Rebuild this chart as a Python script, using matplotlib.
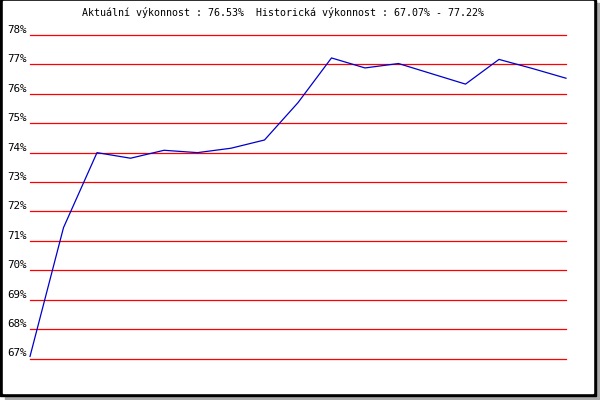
import matplotlib
matplotlib.use("Agg")
import matplotlib.pyplot as plt
import matplotlib.patches as patches

# performance readings (percent), one per sample
values = [67.07, 71.45, 74.0, 73.81, 74.08, 74.0, 74.15, 74.43, 75.7,
          77.22, 76.88, 77.03, 76.68, 76.33, 77.17, 76.86, 76.53]
ticks = list(range(67, 79))
tick_labels = [f"{t}%" for t in ticks]
title = "Aktuální výkonnost : 76.53%  Historická výkonnost : 67.07% - 77.22%"

W, H = 600, 400
fig = plt.figure(figsize=(6, 4), dpi=100, facecolor="white")

# frame with grey drop shadow
fig.patches.append(patches.Rectangle((5 / W, 0), 595 / W, 397 / H,
                                     transform=fig.transFigure, color="#aaaaaa", zorder=0))
fig.patches.append(patches.Rectangle((0, 4 / H), 596 / W, 396 / H,
                                     transform=fig.transFigure, color="black", zorder=0))
fig.patches.append(patches.Rectangle((3 / W, 7 / H), 590 / W, 392 / H,
                                     transform=fig.transFigure, color="white", zorder=0))

ax = fig.add_axes([30 / W, 1 - 358.5 / H, 536 / W, 323.5 / H])
ax.set_zorder(1)
ax.patch.set_visible(False)

for t in ticks:
    ax.axhline(t, color="#ff0000", lw=0.9, zorder=1, clip_on=False)

ax.plot(range(len(values)), values, color="#0000cc", lw=0.9, zorder=2, clip_on=False)

ax.set_xlim(0, len(values) - 1)
ax.set_ylim(67, 78)
ax.set_xticks([])
ax.set_yticks(ticks)
ax.set_yticklabels(tick_labels, family="DejaVu Sans Mono", fontsize=7.8, va="bottom")
ax.tick_params(axis="y", length=0, pad=2.5)
for s in ax.spines.values():
    s.set_visible(False)

fig.text(283 / W, 1 - 13 / H, title, family="DejaVu Sans Mono", fontsize=7.2,
         ha="center", va="center")

fig.savefig("out.png", dpi=100, facecolor="white")
